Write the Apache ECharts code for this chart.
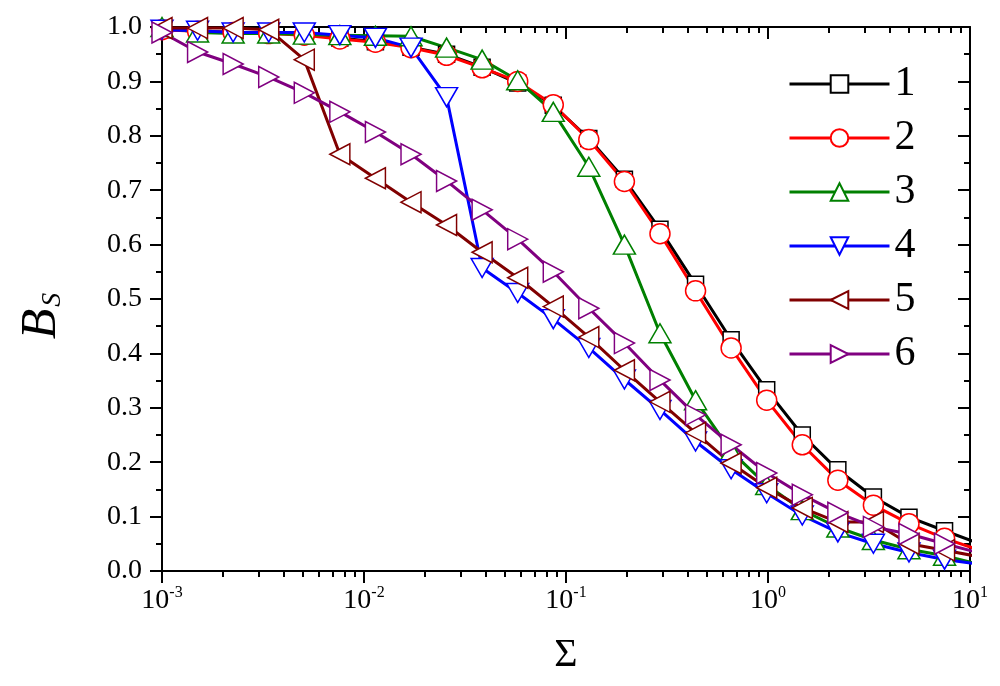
<!DOCTYPE html>
<html><head><meta charset="utf-8">
<script src="https://cdn.jsdelivr.net/npm/echarts@6/dist/echarts.min.js"></script>
<style>html,body{margin:0;padding:0;background:#fff}#c{width:1000px;height:686px}</style>
</head><body><div id="c"></div>
<script>
// x values (Sigma)
const sigma = [0.001, 0.0015, 0.00225, 0.003375, 0.005063, 0.007594, 0.01139, 0.01709, 0.02563, 0.03844, 0.05767, 0.0865, 0.1297, 0.1946, 0.2919, 0.4379, 0.6568, 0.9853, 1.478, 2.217, 3.325, 4.988, 7.482, 11.22];
const seriesNames = ['1', '2', '3', '4', '5', '6'];
const s1 = [0.995, 0.993, 0.99, 0.99, 0.987, 0.98, 0.973, 0.963, 0.95, 0.926, 0.897, 0.856, 0.795, 0.72, 0.628, 0.527, 0.425, 0.333, 0.25, 0.186, 0.136, 0.099, 0.074, 0.05];
const s2 = [0.995, 0.992, 0.99, 0.988, 0.985, 0.978, 0.972, 0.962, 0.948, 0.925, 0.9, 0.857, 0.793, 0.716, 0.62, 0.515, 0.41, 0.314, 0.232, 0.167, 0.121, 0.087, 0.06, 0.038];
const s3 = [1.0, 0.99, 0.988, 0.988, 0.986, 0.985, 0.984, 0.983, 0.962, 0.94, 0.902, 0.844, 0.743, 0.6, 0.437, 0.314, 0.22, 0.158, 0.112, 0.08, 0.057, 0.04, 0.028, 0.012];
const s4 = [0.995, 0.993, 0.99, 0.99, 0.99, 0.985, 0.98, 0.962, 0.871, 0.557, 0.511, 0.463, 0.41, 0.352, 0.296, 0.238, 0.187, 0.143, 0.102, 0.071, 0.05, 0.034, 0.021, 0.012];
const s5 = [0.998, 0.998, 0.998, 0.995, 0.94, 0.766, 0.722, 0.678, 0.636, 0.586, 0.539, 0.486, 0.43, 0.369, 0.311, 0.254, 0.198, 0.153, 0.116, 0.09, 0.09, 0.05, 0.038, 0.026];
const s6 = [0.99, 0.954, 0.932, 0.908, 0.879, 0.844, 0.807, 0.766, 0.717, 0.664, 0.61, 0.55, 0.483, 0.419, 0.351, 0.287, 0.232, 0.18, 0.14, 0.107, 0.081, 0.068, 0.05, 0.033];
const xTickExponents = [-3, -2, -1, 0, 1];
const yTickLabels = ['0.0', '0.1', '0.2', '0.3', '0.4', '0.5', '0.6', '0.7', '0.8', '0.9', '1.0'];

const allY = [s1, s2, s3, s4, s5, s6];
const colors = ['#000000', '#ff0000', '#008000', '#0000ff', '#800000', '#800080'];
const symbols = ['rect', 'circle', 'triangle', 'triangle', 'triangle', 'triangle'];
const symRot = [0, 0, 0, 180, 90, -90];
const symSize = [16, 20, [22, 19], [22, 19], [21, 20], [21, 20]];
const FONT = '"Liberation Serif", "DejaVu Serif", serif';

// minor tick positions (log10 space) for log axis decoration
const minorLog = [];
for (let e = -3; e < 1; e++) for (let m = 2; m <= 9; m++) minorLog.push(Math.log10(m) + e);

const series = allY.map((ys, i) => ({
  name: seriesNames[i],
  type: 'line',
  xAxisIndex: 0, yAxisIndex: 0,
  data: sigma.map((x, j) => [x, ys[j]]),
  symbol: symbols[i],
  symbolRotate: symRot[i],
  symbolSize: symSize[i],
  showAllSymbol: true,
  lineStyle: { color: colors[i], width: 3 },
  itemStyle: { color: '#ffffff', borderColor: colors[i], borderWidth: 1.5 },
  emphasis: { disabled: true },
  clip: true,
  z: 2
}));

const axisLine = { show: true, onZero: false, lineStyle: { color: '#000', width: 2 } };
const chart = echarts.init(document.getElementById('c'), null, { renderer: 'canvas' });
chart.setOption({
  animation: false,
  backgroundColor: '#ffffff',
  grid: { left: 162, right: 30, top: 27, bottom: 115, containLabel: false },
  legend: {
    orient: 'vertical', left: 788, top: 62, padding: 0,
    itemWidth: 100, itemHeight: 22, itemGap: 10,
    data: seriesNames,
    lineStyle: { width: 3 },
    textStyle: { fontFamily: FONT, fontSize: 42, color: '#000', lineHeight: 44 }
  },
  xAxis: [
    { type: 'log', logBase: 10, min: 0.001, max: 10, position: 'bottom',
      axisLine: axisLine,
      axisTick: { show: true, inside: false, length: 12, lineStyle: { color: '#000', width: 2 } },
      splitLine: { show: false }, minorTick: { show: false },
      axisLabel: { margin: 14, color: '#000',
        formatter: v => { const e = Math.round(Math.log10(v)); return xTickExponents.indexOf(e) >= 0 ? '{b|10}{s|' + e + '}' : ''; },
        rich: { b: { fontFamily: FONT, fontSize: 28, lineHeight: 30, verticalAlign: 'bottom' },
                s: { fontFamily: FONT, fontSize: 16, lineHeight: 30, verticalAlign: 'top', padding: [0, 0, 12, 0] } } } },
    { type: 'log', logBase: 10, min: 0.001, max: 10, position: 'top',
      axisLine: axisLine,
      axisTick: { show: true, inside: true, length: 12, lineStyle: { color: '#000', width: 2 } },
      axisLabel: { show: false }, splitLine: { show: false } },
    { type: 'value', min: -3, max: 1, position: 'bottom',
      axisLine: { show: false, onZero: false },
      axisTick: { show: true, inside: false, length: 6, customValues: minorLog, lineStyle: { color: '#000', width: 2 } },
      axisLabel: { show: false }, splitLine: { show: false } },
    { type: 'value', min: -3, max: 1, position: 'top',
      axisLine: { show: false, onZero: false },
      axisTick: { show: true, inside: true, length: 6, customValues: minorLog, lineStyle: { color: '#000', width: 2 } },
      axisLabel: { show: false }, splitLine: { show: false } }
  ],
  yAxis: [
    { type: 'value', min: 0, max: 1, interval: 0.1, position: 'left',
      axisLine: axisLine,
      axisTick: { show: true, inside: false, length: 12, lineStyle: { color: '#000', width: 2 } },
      minorTick: { show: true, splitNumber: 2, length: 6, lineStyle: { color: '#000', width: 2 } },
      splitLine: { show: false }, minorSplitLine: { show: false },
      axisLabel: { margin: 20, color: '#000', fontFamily: FONT, fontSize: 28,
        formatter: v => yTickLabels[Math.round(v * 10)] } },
    { type: 'value', min: 0, max: 1, interval: 0.1, position: 'right',
      axisLine: axisLine,
      axisTick: { show: true, inside: true, length: 12, lineStyle: { color: '#000', width: 2 } },
      minorTick: { show: true, splitNumber: 2, length: 6, lineStyle: { color: '#000', width: 2 } },
      splitLine: { show: false }, minorSplitLine: { show: false },
      axisLabel: { show: false } }
  ],
  graphic: [
    { type: 'text', x: 566, y: 655, style: { text: 'Σ', fontFamily: FONT, fontSize: 40, fill: '#000', align: 'center', verticalAlign: 'middle' } },
    { type: 'text', x: 42, y: 316, rotation: Math.PI / 2,
      style: { text: '{b|B}{s|S}', align: 'center', verticalAlign: 'middle', fill: '#000',
        rich: { b: { fontFamily: FONT, fontSize: 50, fontStyle: 'italic', lineHeight: 50, verticalAlign: 'top' },
                s: { fontFamily: FONT, fontSize: 28, fontStyle: 'italic', lineHeight: 28, verticalAlign: 'bottom', padding: [36, 0, 0, 2] } } } }
  ],
  series: series
});
</script></body></html>
